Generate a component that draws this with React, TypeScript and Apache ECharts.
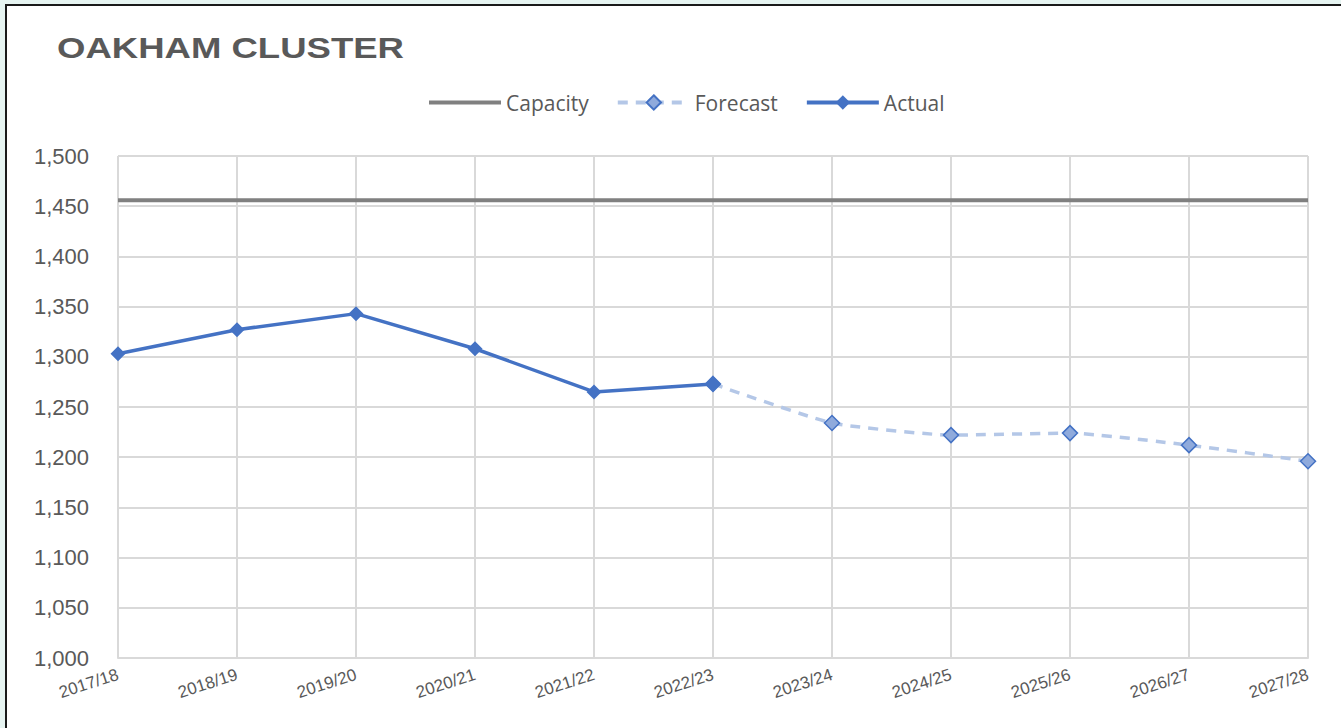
import React, { useEffect, useRef } from "react";
import * as echarts from "echarts";

const categories = ["2017/18", "2018/19", "2019/20", "2020/21", "2021/22", "2022/23", "2023/24", "2024/25", "2025/26", "2026/27", "2027/28"];
const capacity = [1456, 1456, 1456, 1456, 1456, 1456, 1456, 1456, 1456, 1456, 1456];
const actual = [1303, 1327, 1343, 1308, 1265, 1273, null, null, null, null, null];
const forecast = [null, null, null, null, null, 1273, 1234, 1222, 1224, 1212, 1196];
const yTicks = { min: 1000, max: 1500, interval: 50 };

export default function App() {
  const ref = useRef<HTMLDivElement>(null);
  useEffect(() => {
    if (!ref.current) return;
    const chart = echarts.init(ref.current, null, { renderer: "svg" });
    const labelColor = "#595959";
    chart.setOption({
      animation: false,
      graphic: [
        {
          type: "text",
          x: 57,
          y: 33,
          scaleX: 1.26,
          style: {
            text: "OAKHAM CLUSTER",
            fill: labelColor,
            font: "bold 29px 'Liberation Sans', Arial, sans-serif",
          },
        },
      ],
      legend: {
        top: 87,
        left: 424,
        itemWidth: 72,
        itemHeight: 18,
        itemGap: 27,
        data: [
          { name: "Capacity", icon: "path://M0,7 L72,7 L72,11 L0,11 Z", itemStyle: { color: "#808080" } },
          { name: "Forecast" },
          { name: "Actual" },
        ],
        lineStyle: { width: 4 },
        textStyle: { color: labelColor, fontSize: 21, fontFamily: "'Open Sans', 'Noto Sans', sans-serif" },
      },
      grid: { left: 118, right: 33, top: 156, bottom: 70, containLabel: false },
      xAxis: {
        type: "category",
        data: categories,
        boundaryGap: false,
        axisLine: { show: true, lineStyle: { color: "#d9d9d9", width: 2 } },
        axisTick: { show: false },
        splitLine: { show: true, lineStyle: { color: "#d9d9d9", width: 2 } },
        axisLabel: {
          rotate: 18,
          margin: 16,
          color: labelColor,
          fontSize: 17,
          fontFamily: "'Liberation Sans', Arial, sans-serif",
        },
      },
      yAxis: {
        type: "value",
        min: yTicks.min,
        max: yTicks.max,
        interval: yTicks.interval,
        axisLine: { show: false },
        axisTick: { show: false },
        splitLine: { lineStyle: { color: "#d9d9d9", width: 2 } },
        axisLabel: {
          margin: 29,
          color: labelColor,
          fontSize: 22,
          fontFamily: "'Liberation Sans', Arial, sans-serif",
          formatter: (v: number) => v.toLocaleString("en-US"),
        },
      },
      series: [
        {
          name: "Capacity",
          type: "line",
          data: capacity,
          symbol: "none",
          lineStyle: { color: "#808080", width: 4 },
          itemStyle: { color: "#808080" },
          z: 2,
        },
        {
          name: "Forecast",
          type: "line",
          data: forecast,
          smooth: 0.15,
          symbol: "diamond",
          symbolSize: 15,
          lineStyle: { color: "#b4c7e7", width: 3.5, type: [10, 8] },
          itemStyle: { color: "#8faadc", borderColor: "#4472c4", borderWidth: 1.5 },
          z: 3,
        },
        {
          name: "Actual",
          type: "line",
          data: actual,
          symbol: "diamond",
          symbolSize: 15,
          lineStyle: { color: "#4472c4", width: 3.5 },
          itemStyle: { color: "#4472c4" },
          z: 4,
        },
      ],
    });
    return () => chart.dispose();
  }, []);

  return (
    <div style={{ position: "fixed", left: 0, top: 0, width: 1341, height: 728, background: "#e6f4f1", overflow: "hidden" }}>
      <div
        style={{
          position: "absolute",
          left: 5,
          top: 4,
          width: 1400,
          height: 800,
          background: "#ffffff",
          borderTop: "2px solid #1a1a1a",
          borderLeft: "2px solid #1a1a1a",
        }}
      />
      <div ref={ref} style={{ position: "absolute", left: 0, top: 0, width: 1341, height: 728 }} />
    </div>
  );
}
